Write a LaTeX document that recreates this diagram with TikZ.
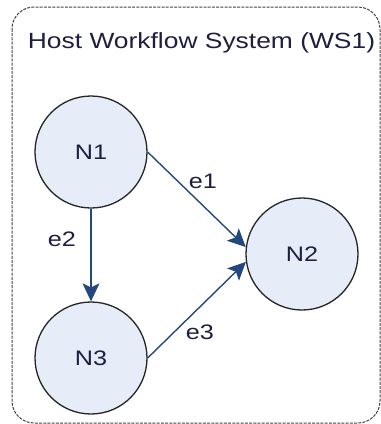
\documentclass[tikz,border=0pt]{standalone}
\usepackage{fontspec}
\setmainfont{Liberation Sans}
\usetikzlibrary{arrows.meta}
\definecolor{nodefill}{HTML}{E6EDF8}
\definecolor{edgeblue}{HTML}{24487E}
\definecolor{txt}{HTML}{1E1E40}
\definecolor{boxgray}{HTML}{444444}
\newcommand{\stretched}[1]{\scalebox{1.2}[1]{#1}}
\tikzset{
  wfnode/.style={circle, minimum size=112pt, inner sep=0pt, fill=nodefill, draw=black!85, line width=1.3pt, text=txt, font=\fontsize{21}{25}\selectfont},
  wfedge/.style={draw=edgeblue, line width=1.4pt, -{Stealth[length=18pt,width=17pt,inset=4pt]}},
  elabel/.style={text=txt, font=\fontsize{21}{25}\selectfont, inner sep=0pt},
  sysbox/.style={draw=boxgray, dash pattern=on 3pt off 1.2pt, line width=1pt, rounded corners=22pt}
}
\begin{document}
\begin{tikzpicture}[x=1pt,y=-1pt]
\useasboundingbox (0,0) rectangle (381,424);
\draw[sysbox] (12,7) rectangle (380,423);
\node[text=txt, font=\fontsize{22}{26}\selectfont, anchor=base, inner sep=0pt] (title) at (201.5,48) {\stretched{Host Workflow System (WS1)}};
\node[wfnode] (N1) at (91,152) {\stretched{N1}};
\node[wfnode] (N2) at (302,254) {\stretched{N2}};
\node[wfnode] (N3) at (91,358) {\stretched{N3}};
\draw[wfedge] (N1.east) -- (N2.173);
\draw[wfedge] (N1.south) -- (N3.north);
\draw[wfedge] (N3.east) -- (N2.188);
\node[elabel] (l1) at (203,181) {\stretched{e1}};
\node[elabel] (l2) at (62,239) {\stretched{e2}};
\node[elabel] (l3) at (200,332) {\stretched{e3}};
\end{tikzpicture}
\end{document}
